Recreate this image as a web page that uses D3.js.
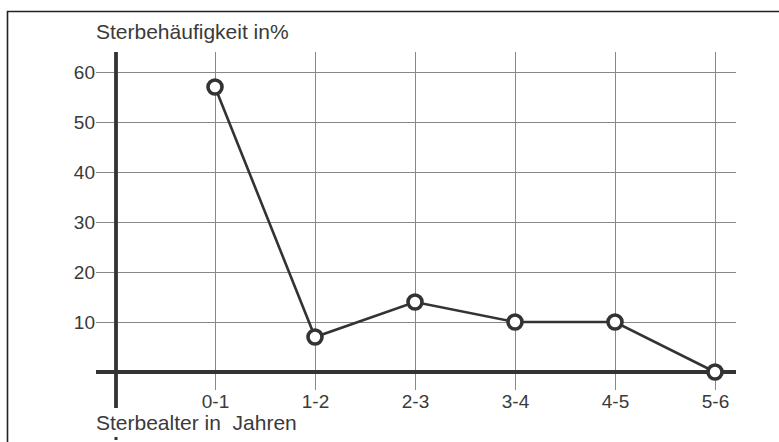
<!DOCTYPE html>
<html><head><meta charset="utf-8">
<script src="https://cdn.jsdelivr.net/npm/d3@7"></script>
<style>body{margin:0;background:#fff}svg{display:block}text{font-family:"Liberation Sans",Arial,sans-serif;fill:#3a3a3a;white-space:pre}</style>
</head><body>
<svg id="c" width="779" height="442"></svg>
<script>
const categories = ["0-1","1-2","2-3","3-4","4-5","5-6"];
const values = [57, 7, 14, 10, 10, 0];
const yTicks = [10, 20, 30, 40, 50, 60];
const yTitle = "Sterbehäufigkeit in%";
const xTitle = "Sterbealter in  Jahren";

const FONT = "'Liberation Sans',Arial,sans-serif";
const FS = 19, TFS = 21;
const svg = d3.select("#c");
const x = d3.scalePoint().domain(categories).range([215, 715]);
const y = d3.scaleLinear().domain([0, 60]).range([372, 72]);

// frame
svg.append("path").attr("d","M7.5,442V11.5H779").attr("fill","none").attr("stroke","#222").attr("stroke-width",1.6);

// horizontal gridlines + y labels
const yg = svg.append("g").attr("transform","translate(116,0)")
  .call(d3.axisLeft(y).tickValues(yTicks).tickSize(-620).tickSizeOuter(0).tickPadding(2).tickFormat(d3.format("d")));
yg.attr("font-size",null).attr("font-family",null);
yg.select(".domain").remove();
yg.selectAll(".tick line").attr("x1",-20).attr("x2",620).attr("stroke","#888").attr("stroke-width",1);
yg.selectAll(".tick text").style("font-size",FS+"px").style("font-family",FONT)
  .attr("fill","#3a3a3a").attr("x",-21).attr("dy","0.36em");

// vertical gridlines + x labels
const xg = svg.append("g").attr("transform","translate(0,372)")
  .call(d3.axisBottom(x).tickSize(18).tickSizeOuter(0).tickPadding(2));
xg.attr("font-size",null).attr("font-family",null);
xg.select(".domain").remove();
xg.selectAll(".tick line").attr("y1",-320).attr("y2",18).attr("stroke","#888").attr("stroke-width",1);
xg.selectAll(".tick text").style("font-size",FS+"px").style("font-family",FONT)
  .attr("fill","#3a3a3a").attr("y",36).attr("dy",null);

// axes
svg.append("line").attr("x1",116).attr("x2",116).attr("y1",52).attr("y2",408).attr("stroke","#333").attr("stroke-width",3.8);
svg.append("rect").attr("x",114.5).attr("y",437).attr("width",3).attr("height",3).attr("fill","#333");
svg.append("line").attr("x1",96).attr("x2",736).attr("y1",372).attr("y2",372).attr("stroke","#333").attr("stroke-width",3.8);

// titles
svg.append("text").attr("x",96).attr("y",39).style("font-size",TFS+"px").text(yTitle);
svg.append("text").attr("x",96).attr("y",430).style("font-size",TFS+"px").text(xTitle);

// line
svg.append("path").datum(values)
  .attr("d", d3.line().x((d,i)=>x(categories[i])).y(d=>y(d)))
  .attr("fill","none").attr("stroke","#333").attr("stroke-width",2.6);
svg.selectAll("circle.pt").data(values).join("circle").attr("class","pt")
  .attr("cx",(d,i)=>x(categories[i])).attr("cy",d=>y(d)).attr("r",7)
  .attr("fill","#fff").attr("stroke","#333").attr("stroke-width",3.6);
</script>
</body></html>
